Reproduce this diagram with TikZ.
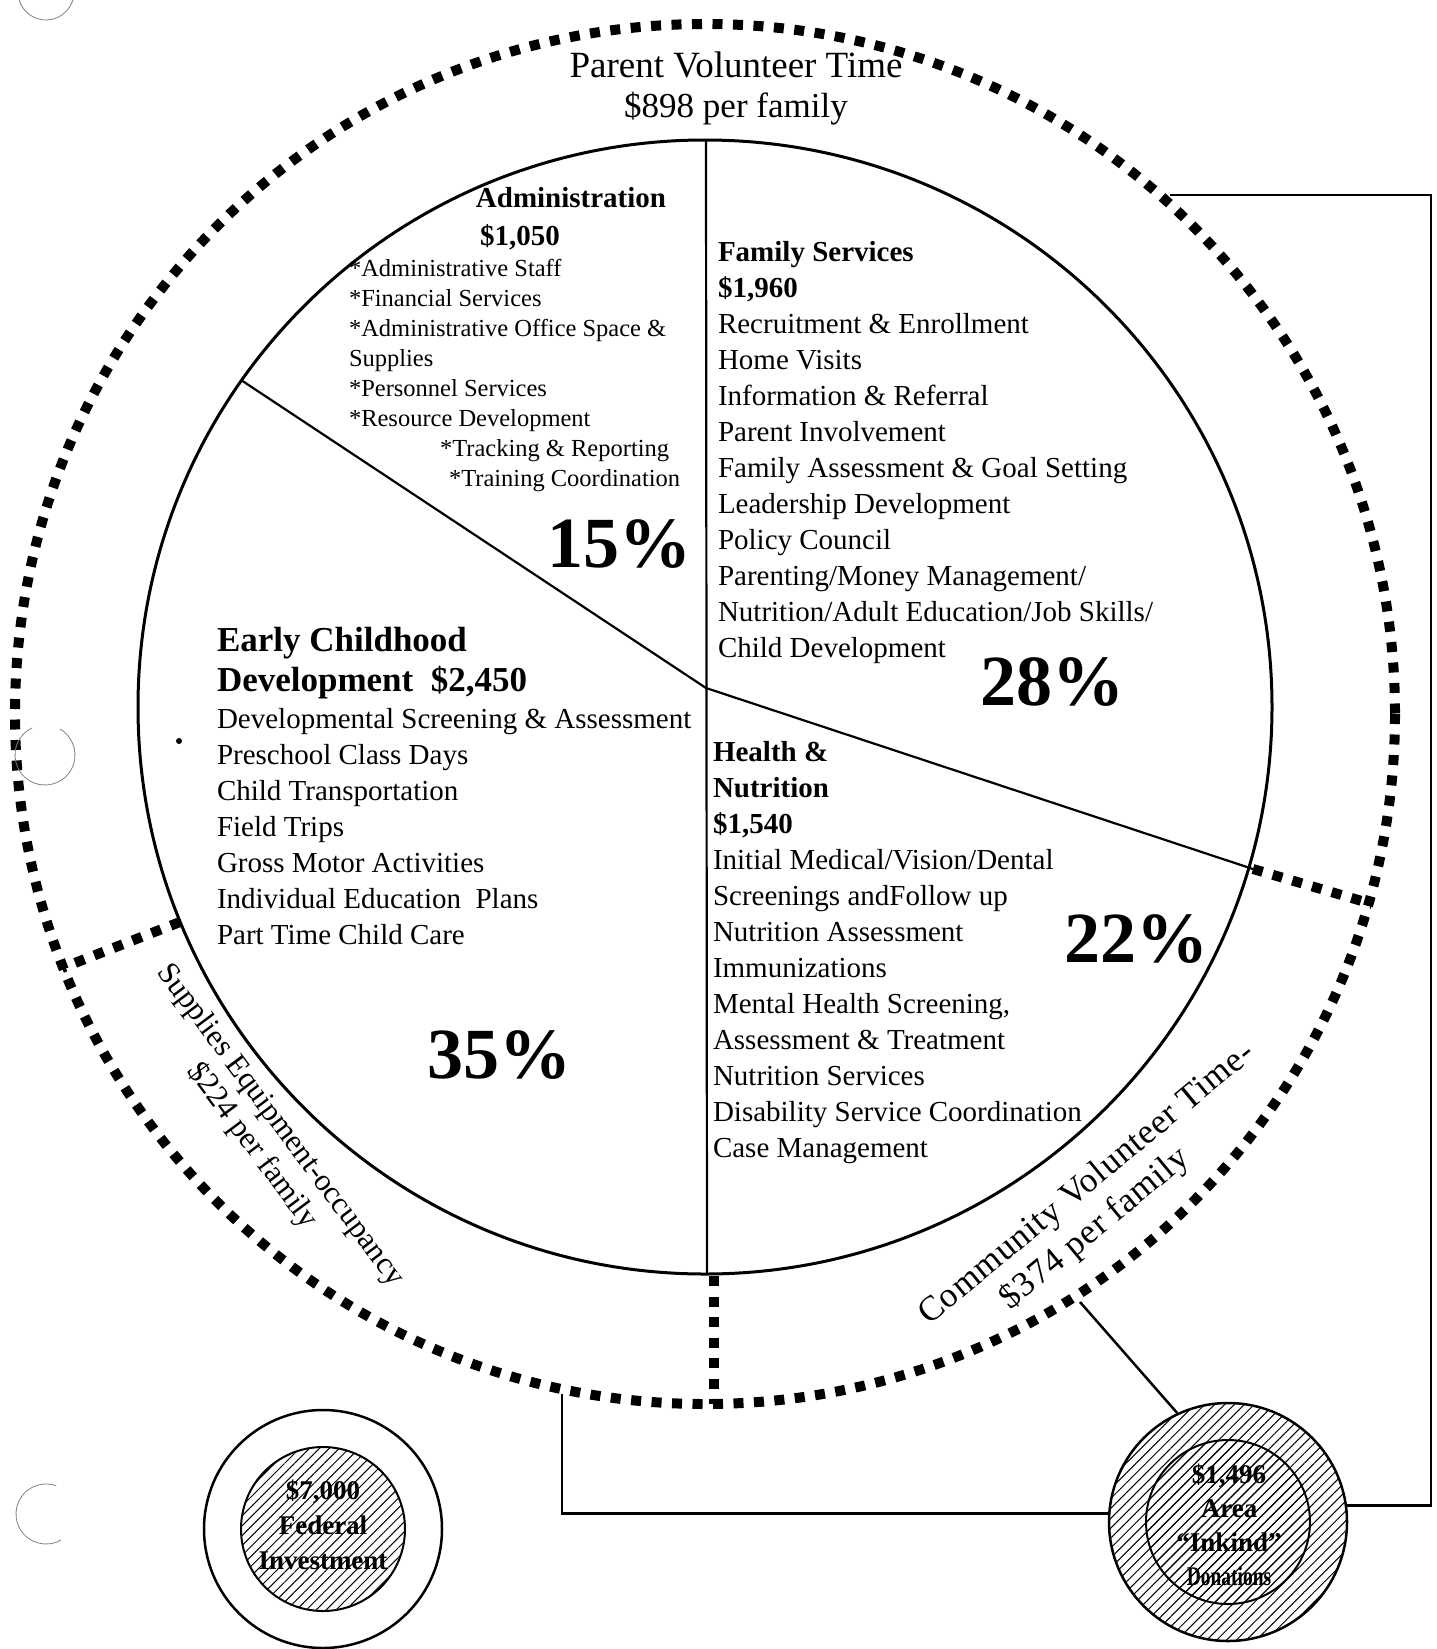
\documentclass[tikz,border=0pt]{standalone}
\usepackage{fontspec}
\setmainfont{Liberation Serif}
\usetikzlibrary{positioning,patterns.meta}
\tikzset{
	items/.style={font=\fontsize{29}{36}\selectfont, align=left, anchor=north west, inner sep=0pt, outer sep=0pt},
	smallitems/.style={font=\fontsize{24.5}{30}\selectfont, align=left, anchor=north west, inner sep=0pt, outer sep=0pt},
	head/.style={font=\fontsize{29}{36}\selectfont\bfseries, inner sep=0pt},
	pct/.style={font=\fontsize{72}{72}\selectfont\bfseries, inner sep=0pt},
	rimtext/.style={font=\fontsize{31}{35}\selectfont, align=center, inner sep=0pt}
}
\tikzset{
	dots/.style={line width=10pt, dash pattern=on 10pt off 10.5pt},
	rim/.style={line width=3pt},
	divider/.style={line width=2.2pt},
	link/.style={line width=2.5pt},
	hatch/.style={pattern={Lines[angle=45,distance=7pt,line width=1pt]}},
	disc/.style={circle, draw, line width=2.5pt, inner sep=0pt},
	disctext/.style={font=\fontsize{27}{35}\selectfont\bfseries, align=center, inner sep=0pt},
	punch/.style={line width=.8pt, gray}
}

\begin{document}
\begin{tikzpicture}[x=1pt, y=-1pt]
\useasboundingbox (0,0) rectangle (1437,1649);

\coordinate (oc) at (705,714);
\coordinate (pc) at (705,707);
\coordinate (hub) at (706,688);
\coordinate (pTop) at (706,140);
\coordinate (pBot) at (707,1274);
\coordinate (pNW) at (241,380);
\coordinate (pE) at (1253,869);
\coordinate (pSW) at (180,922);
\coordinate (oW) at (62,968);
\coordinate (oE) at (1372,904);
\coordinate (pS) at (714,1276);
\coordinate (oS) at (714,1404);
\coordinate (oNE) at (1170,195);
\coordinate (brk) at (1431,195);
\coordinate (oSW) at (562,1394);
\coordinate (oSE) at (1080,1302);

% rings
\draw[dots] (oc) circle[radius=690];
\draw[rim] (pc) circle[radius=567];
\draw[divider] (pTop) -- (pBot);
\draw[divider] (pNW) -- (hub) -- (pE);
\draw[dots] (pSW) -- (oW);
\draw[dots] (pE) -- (oE);
\draw[dots] (pS) -- (oS);

% slices
\node[head](admT) at (571,198) {Administration};
\node[head](admV) at (520,237) {\$1,050};
\node[smallitems](adm) at (349,259) {*Administrative Staff\\
*Financial Services\\
*Administrative Office Space \&\\
Supplies\\
*Personnel Services\\
*Resource Development\\
\hspace*{91pt}*Tracking \& Reporting\\
\hspace*{100pt}*Training Coordination};

\node[items](fam) at (718,241) {\textbf{Family Services}\\
\textbf{\$1,960}\\
Recruitment \& Enrollment\\
Home Visits\\
Information \& Referral\\
Parent Involvement\\
Family Assessment \& Goal Setting\\
Leadership Development\\
Policy Council\\
Parenting/Money Management/\\
Nutrition/Adult Education/Job Skills/\\
Child Development};

\node[items, font=\fontsize{35}{40}\selectfont\bfseries](ecdT) at (217,627) {Early Childhood\\
Development\ \ \$2,450};
\node[items](ecd) at (217,708) {Developmental Screening \& Assessment\\
Preschool Class Days\\
Child Transportation\\
Field Trips\\
Gross Motor Activities\\
Individual Education\ \ Plans\\
Part Time Child Care};

\node[items](hn) at (713,741) {\textbf{Health \&}\\
\textbf{Nutrition}\\
\textbf{\$1,540}\\
Initial Medical/Vision/Dental\\
Screenings andFollow up\\
Nutrition Assessment\\
Immunizations\\
Mental Health Screening,\\
Assessment \& Treatment\\
Nutrition Services\\
Disability Service Coordination\\
Case Management};

\node[pct](p15) at (619,544) {15\%};
\node[pct](p28) at (1052,682) {28\%};
\node[pct](p22) at (1136,939) {22\%};
\node[pct](p35) at (499,1055) {35\%};

% outer ring labels
\node[rimtext, font=\fontsize{37}{40}\selectfont](pvt) at (736,65) {Parent Volunteer Time};
\node[rimtext, font=\fontsize{35}{40}\selectfont, below=14pt of pvt](pvtV) {\$898 per family};
\node[rimtext, rotate=-53.3](sup) at (266,1136) {Supplies Equipment-occupancy\\\$224 per family};
\node[rimtext, font=\fontsize{35}{40}\selectfont\addfontfeatures{LetterSpace=2.5}, rotate=39.5](cvt) at (1100,1200) {Community Volunteer Time-\\\$374 per family\hspace*{44pt}};

% sources
\node[disc, minimum size=238pt](fedout) at (323,1529) {};
\node[disc, hatch, line width=2pt, minimum size=164pt](fedin) at (fedout) {};
\node[disctext](fed) at (323,1525) {\$7,000\\Federal\\Investment};

\node[disc, hatch, minimum size=238pt](kindout) at (1228,1522) {};
\node[disc, hatch, line width=2pt, minimum size=164pt](kindin) at (kindout) {};
\node[disctext, font=\fontsize{27}{34}\selectfont\bfseries](kind) at (1229,1525) {\$1,496\\Area\\“Inkind”\\\scalebox{.72}[1]{Donations}};

\draw[link] (oNE) -- (brk) |- (kindout.8);
\draw[link] (oSW) |- (kindout.176);
\draw[link] (oSE) -- (kindout.115);

% punch holes
\draw[punch] (46,-8) ++(10:28) arc[start angle=10, end angle=170, radius=28];
\draw[punch] (45,755) ++(-60:30) arc[start angle=-60, end angle=245, radius=30];
\draw[punch] (46,1514) ++(60:30) arc[start angle=60, end angle=290, radius=30];
\fill (179,741) circle[radius=3];

\end{tikzpicture}
\end{document}
